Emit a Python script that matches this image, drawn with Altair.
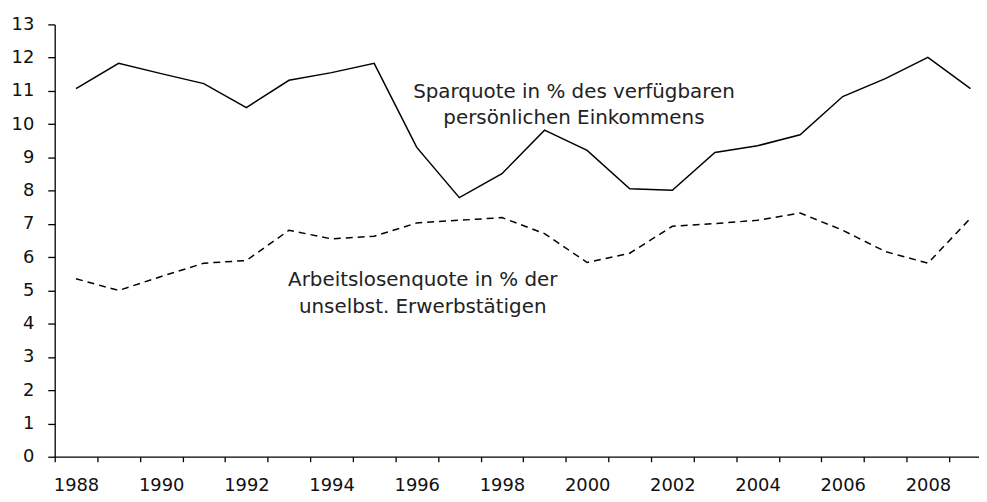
import altair as alt
import pandas as pd

years = list(range(1988, 2010))
sparquote = [11.07, 11.83, 11.52, 11.22, 10.50, 11.32, 11.55, 11.83, 9.30, 7.79, 8.51,
             9.82, 9.21, 8.06, 8.01, 9.15, 9.35, 9.68, 10.83, 11.37, 12.01, 11.07]
arbeitslos = [5.35, 5.00, 5.42, 5.82, 5.90, 6.81, 6.55, 6.63, 7.03, 7.11, 7.19,
              6.71, 5.84, 6.12, 6.93, 7.01, 7.11, 7.33, 6.81, 6.17, 5.82, 7.17]

label_texts = [["Sparquote in % des verfügbaren", "persönlichen Einkommens"],
               ["Arbeitslosenquote in % der", "unselbst. Erwerbstätigen"]]
label_x = [1999.69, 1996.14]
label_y = [10.98, 5.30]

tick_years = [1987.5 + i for i in range(22)]
label_years = list(range(1988, 2009, 2))

FONT = "DejaVu Sans"

df = pd.DataFrame({"year": years, "Sparquote": sparquote, "Arbeitslos": arbeitslos})
lab = pd.DataFrame({"x": label_x, "y": label_y, "t": label_texts})

xscale = alt.Scale(domain=[1987.5, 2009.2], nice=False, zero=False)
yscale = alt.Scale(domain=[0, 13], nice=False)

xaxis_labels = alt.Axis(
    orient="bottom", values=label_years, format="d", title=None, grid=False,
    ticks=False, domain=False, labelPadding=34, labelBaseline="alphabetic",
    labelFontSize=18, labelFont=FONT, labelColor="#111", labelFlush=False,
    labelOverlap=False,
)
xaxis_ticks = alt.Axis(
    orient="bottom", values=tick_years, title=None, grid=False, labels=False,
    tickSize=5, tickWidth=1.3, tickColor="black",
    domainColor="black", domainWidth=1.3,
)
yaxis = alt.Axis(
    values=list(range(0, 14)), title=None, grid=False, tickSize=7, tickWidth=1.3,
    tickColor="black", labelPadding=14, labelFontSize=18, labelFont=FONT,
    labelColor="#111", domainColor="black", domainWidth=1.3, labelOverlap=False,
)

base = alt.Chart(df)
l1 = base.mark_line(color="black", strokeWidth=1.5).encode(
    x=alt.X("year:Q", scale=xscale, axis=xaxis_ticks),
    y=alt.Y("Sparquote:Q", scale=yscale, axis=yaxis),
)
l2 = base.mark_line(color="black", strokeWidth=1.5, strokeDash=[7, 5]).encode(
    x=alt.X("year:Q", scale=xscale, axis=xaxis_labels),
    y=alt.Y("Arbeitslos:Q", scale=yscale, axis=yaxis),
)
txt = alt.Chart(lab).mark_text(
    font=FONT, fontSize=20, color="#222", align="center", baseline="middle", lineHeight=27
).encode(
    x=alt.X("x:Q", scale=xscale, axis=None),
    y=alt.Y("y:Q", scale=yscale, axis=yaxis),
    text="t",
)

chart = alt.layer(l1, l2, txt).resolve_axis(x="independent").properties(
    width=930, height=435,
    autosize=alt.AutoSizeParams(type="none"),
    padding={"left": 47, "top": 15, "right": 0, "bottom": 36},
).configure_view(stroke=None)

chart.save("out.html", embed_options={"renderer": "svg", "actions": False})
